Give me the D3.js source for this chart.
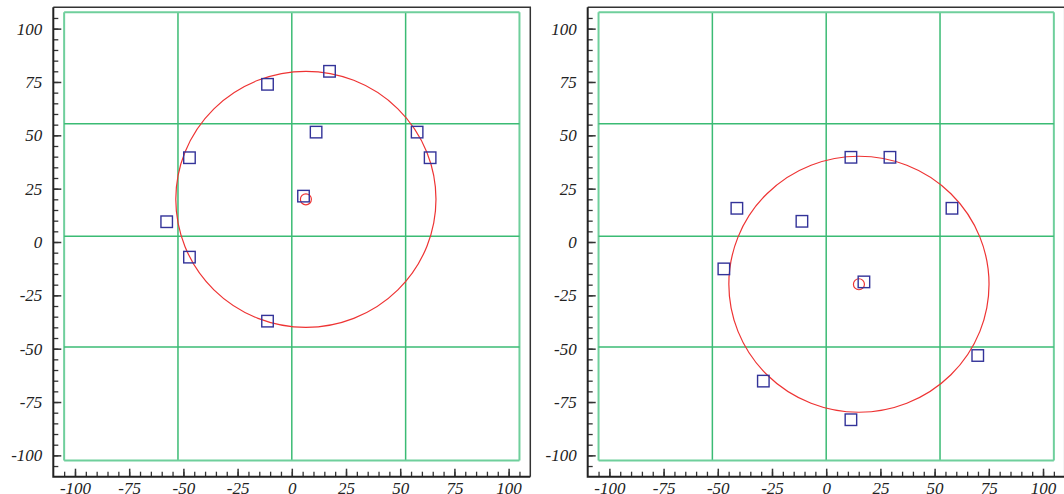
<!DOCTYPE html>
<html>
<head>
<meta charset="utf-8">
<script src="https://cdn.jsdelivr.net/npm/d3@7"></script>
<style>
  html, body { margin: 0; padding: 0; background: #fff; }
  svg { display: block; }
  .tick text { font-family: "Liberation Serif", "Times New Roman", serif; font-style: italic; font-size: 17px; fill: #222; }
</style>
</head>
<body>
<svg id="chart" width="1064" height="494"></svg>
<script>
// Tick labels shared by both panels
const tickLabels = [-100, -75, -50, -25, 0, 25, 50, 75, 100];
const minorTicks = d3.range(-105, 106, 5);

// Grid line positions (data units)
const gridX = [-105, -52.5, 0, 52.5, 105];
const gridY = [107.7, 55.4, 2.7, -49.2, -102.4];

// Left panel: measured points and fitted circle
const leftX = [17.4, -11.2, 11.2, 57.8, -47.2, 63.8, 5.4, -57.7, -47.2, -11.2];
const leftY = [80.0, 73.9, 51.5, 51.5, 39.5, 39.5, 21.5, 9.5, -7.1, -37.1];
const leftCenter = [6.5, 20.0];
const leftRadius = 60;

// Right panel: measured points and fitted circle
const rightX = [11.4, 29.4, -41.2, 58.0, -11.2, -47.2, 17.4, 69.9, -29.0, 11.4];
const rightY = [39.7, 39.7, 15.8, 15.8, 9.7, -12.6, -18.7, -53.2, -65.2, -83.3];
const rightCenter = [15.1, -19.8];
const rightRadius = 60;

const svg = d3.select("#chart");
const domain = [-110, 110];
const plainFormat = d => String(d);   // hyphen-minus labels

function drawPanel(left, xs, ys, center, radius) {
  const width = 477, top = 7.3, bottom = 476.7;
  const x = d3.scaleLinear().domain(domain).range([left, left + width]);
  const y = d3.scaleLinear().domain(domain).range([bottom, top]);
  const g = svg.append("g");

  // frame: top and right edges
  g.append("path")
    .attr("d", `M${left},${top}H${left + width}V${bottom}`)
    .attr("fill", "none").attr("stroke", "#333").attr("stroke-width", 1.5);

  // grid
  const gx0 = x(gridX[0]), gx1 = x(gridX[gridX.length - 1]);
  const gy0 = y(gridY[0]), gy1 = y(gridY[gridY.length - 1]);
  g.selectAll(".gv").data(gridX).join("line")
    .attr("x1", d => x(d)).attr("x2", d => x(d))
    .attr("y1", gy0).attr("y2", gy1)
    .attr("stroke", (d, i) => (i === 0 || i === gridX.length - 1) ? "#6fcf9c" : "#3bbb74")
    .attr("stroke-width", (d, i) => (i === 0 || i === gridX.length - 1) ? 2 : 1.5);
  g.selectAll(".gh").data(gridY).join("line")
    .attr("y1", d => y(d)).attr("y2", d => y(d))
    .attr("x1", gx0).attr("x2", gx1)
    .attr("stroke", (d, i) => (i === 0 || i === gridY.length - 1) ? "#6fcf9c" : "#3bbb74")
    .attr("stroke-width", (d, i) => (i === 0 || i === gridY.length - 1) ? 2 : 1.5);

  // fitted circle and its centre
  g.append("ellipse")
    .attr("cx", x(center[0])).attr("cy", y(center[1]))
    .attr("rx", x(center[0] + radius) - x(center[0]))
    .attr("ry", y(center[1]) - y(center[1] + radius))
    .attr("fill", "none").attr("stroke", "#ee3333").attr("stroke-width", 1.2);
  g.append("circle")
    .attr("cx", x(center[0])).attr("cy", y(center[1])).attr("r", 5.5)
    .attr("fill", "none").attr("stroke", "#ee3333").attr("stroke-width", 1.2);

  // points as open squares
  const s = 11.5;
  g.selectAll(".pt").data(xs.map((v, i) => [v, ys[i]])).join("rect")
    .attr("x", d => x(d[0]) - s / 2).attr("y", d => y(d[1]) - s / 2)
    .attr("width", s).attr("height", s)
    .attr("fill", "none").attr("stroke", "#333399").attr("stroke-width", 1.4);

  // axes: minor ticks
  g.append("g").attr("transform", `translate(${left},0)`)
    .call(d3.axisLeft(y).tickValues(minorTicks).tickSize(-5).tickFormat("").tickSizeOuter(0))
    .call(a => a.select(".domain").remove())
    .selectAll("line").attr("stroke", "#333").attr("stroke-width", 1.3);
  g.append("g").attr("transform", `translate(0,${bottom})`)
    .call(d3.axisBottom(x).tickValues(minorTicks).tickSize(-5).tickFormat("").tickSizeOuter(0))
    .call(a => a.select(".domain").remove())
    .selectAll("line").attr("stroke", "#333").attr("stroke-width", 1.3);

  // axes: major ticks with labels
  const ay = g.append("g").attr("transform", `translate(${left},0)`)
    .call(d3.axisLeft(y).tickValues(tickLabels).tickFormat(plainFormat)
      .tickSize(-8).tickPadding(11).tickSizeOuter(0));
  ay.select(".domain").remove();
  ay.selectAll("line").attr("stroke", "#333").attr("stroke-width", 1.5);
  const ax = g.append("g").attr("transform", `translate(0,${bottom})`)
    .call(d3.axisBottom(x).tickValues(tickLabels).tickFormat(plainFormat)
      .tickSize(-8).tickPadding(5).tickSizeOuter(0));
  ax.select(".domain").remove();
  ax.selectAll("line").attr("stroke", "#333").attr("stroke-width", 1.5);

  // axis lines
  g.append("path")
    .attr("d", `M${left},${top}V${bottom}H${left + width}`)
    .attr("fill", "none").attr("stroke", "#222").attr("stroke-width", 2);
}

drawPanel(53.3, leftX, leftY, leftCenter, leftRadius);
drawPanel(587.7, rightX, rightY, rightCenter, rightRadius);
</script>
</body>
</html>
